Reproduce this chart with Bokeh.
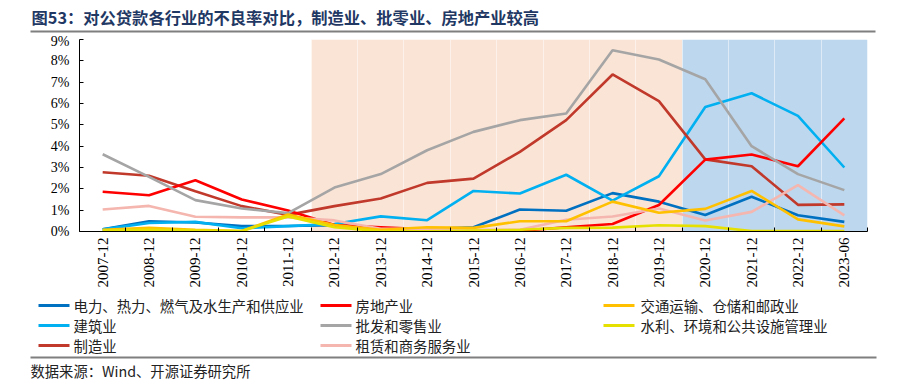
import math
from bokeh.plotting import figure
from bokeh.layouts import column
from bokeh.models import FixedTicker, PrintfTickFormatter, Range1d
from bokeh.core.properties import value
from bokeh.embed import file_html
from bokeh.resources import INLINE

# ---------------- data ----------------
categories = ["2007-12", "2008-12", "2009-12", "2010-12", "2011-12", "2012-12",
              "2013-12", "2014-12", "2015-12", "2016-12", "2017-12", "2018-12",
              "2019-12", "2020-12", "2021-12", "2022-12", "2023-06"]

electric = [0.10, 0.48, 0.42, 0.25, 0.26, 0.30, 0.15, 0.12, 0.20, 1.03, 0.97, 1.80, 1.40, 0.77, 1.63, 0.76, 0.45]
construction = [0.10, 0.40, 0.45, 0.15, 0.25, 0.35, 0.71, 0.53, 1.90, 1.78, 2.66, 1.45, 2.59, 5.84, 6.48, 5.42, 3.00]
manufacturing = [2.78, 2.61, 1.89, 1.19, 0.78, 1.19, 1.55, 2.28, 2.48, 3.73, 5.22, 7.36, 6.11, 3.38, 3.06, 1.25, 1.27]
real_estate = [1.86, 1.70, 2.40, 1.50, 0.98, 0.30, 0.20, 0.10, 0.05, 0.03, 0.20, 0.35, 1.24, 3.37, 3.61, 3.06, 5.30]
wholesale = [3.62, 2.56, 1.47, 1.08, 0.86, 2.06, 2.69, 3.81, 4.67, 5.22, 5.53, 8.50, 8.06, 7.14, 4.00, 2.69, 1.94]
leasing = [1.03, 1.20, 0.69, 0.66, 0.66, 0.52, 0.13, 0.13, 0.08, 0.08, 0.55, 0.70, 1.08, 0.52, 0.92, 2.17, 0.76]
transport = [0.08, 0.17, 0.08, 0.02, 0.80, 0.30, 0.08, 0.20, 0.17, 0.48, 0.48, 1.40, 0.88, 1.06, 1.90, 0.57, 0.24]
water = [0.05, 0.08, 0.05, 0.02, 0.70, 0.20, 0.01, 0.01, 0.05, 0.08, 0.17, 0.18, 0.29, 0.25, 0.02, 0.02, 0.02]

series_names = ["电力、热力、燃气及水生产和供应业", "建筑业", "制造业",
                "房地产业", "批发和零售业", "租赁和商务服务业",
                "交通运输、仓储和邮政业", "水利、环境和公共设施管理业"]
series_values = [electric, construction, manufacturing, real_estate, wholesale,
                 leasing, transport, water]
series_colors = ["#0070C0", "#00B0F0", "#C0392B", "#FF0000", "#A5A5A5",
                 "#F4B6AF", "#FFC000", "#E6E000"]

periods = [("2012-12", "2019-12", "#FAE4D6"), ("2020-12", "2023-06", "#BDD7EE")]

y_max = 9
title_text = "图53：对公贷款各行业的不良率对比，制造业、批零业、房地产业较高"
source_text = "数据来源：Wind、开源证券研究所"

W = 900
cjk = "Noto Sans CJK SC"

# ---------------- top strip: title ----------------
top_h = 33
top = figure(width=W, height=top_h, output_backend="svg", toolbar_location=None,
             x_range=Range1d(0, W), y_range=Range1d(top_h, 0),
             x_axis_location=None, y_axis_location=None,
             min_border_left=0, min_border_right=0, min_border_top=0,
             min_border_bottom=0, frame_align=False)
top.outline_line_color = None
top.grid.grid_line_color = None
top.text(x=[31], y=[16], text=[title_text], text_font=value(cjk),
         text_font_size="16.3px", text_font_style="bold", text_color="#1F3864",
         text_baseline="middle", text_align="left")
top.segment(x0=[30], y0=[31], x1=[875], y1=[31], line_color="#7F7F7F", line_width=2)

# ---------------- main chart ----------------
n = len(categories)
main_h = 262
p = figure(width=W, height=main_h, output_backend="svg", toolbar_location=None,
           x_range=Range1d(-0.5, n - 0.5), y_range=Range1d(0, y_max),
           min_border_left=79, min_border_right=W - 867, min_border_top=6,
           min_border_bottom=64, frame_align=False)
p.outline_line_color = None
p.background_fill_color = "white"
p.border_fill_color = "white"

for start, end, col in periods:
    i0 = categories.index(start)
    i1 = categories.index(end)
    p.quad(left=[i0 - 0.5], right=[i1 + 0.5], bottom=[0], top=[y_max],
           fill_color=col, line_color=None, level="image")

xt = FixedTicker(ticks=list(range(n)), minor_ticks=[i - 0.5 for i in range(n + 1)])
p.xaxis.ticker = xt
p.xaxis.major_label_overrides = {i: c for i, c in enumerate(categories)}
p.xaxis.major_label_orientation = math.pi / 2
p.xaxis.major_tick_line_color = None
p.xaxis.major_tick_in = 0
p.xaxis.major_tick_out = 0
p.xaxis.minor_tick_in = 4
p.xaxis.minor_tick_out = 0
p.xaxis.minor_tick_line_color = "black"
p.xaxis.major_label_standoff = 6
p.xaxis.major_label_text_font = "Liberation Serif"
p.xaxis.major_label_text_font_size = "15px"
p.xaxis.major_label_text_color = "black"
p.xaxis.axis_line_color = "black"

p.yaxis.ticker = FixedTicker(ticks=list(range(0, y_max + 1)))
p.yaxis.formatter = PrintfTickFormatter(format="%d%%")
p.yaxis.major_tick_in = 4
p.yaxis.major_tick_out = 0
p.yaxis.minor_tick_line_color = None
p.yaxis.major_label_standoff = 10
p.yaxis.major_label_text_font = "Liberation Serif"
p.yaxis.major_label_text_font_size = "14px"
p.yaxis.major_label_text_color = "black"
p.yaxis.axis_line_color = "black"

p.ygrid.grid_line_color = None
p.xgrid.ticker = xt
p.xgrid.grid_line_color = None
p.xgrid.minor_grid_line_color = "white"
p.xgrid.minor_grid_line_alpha = 0.5

xs = list(range(n))
for name, vals, col in zip(series_names, series_values, series_colors):
    p.line(xs, vals, line_color=col, line_width=2.6)

# ---------------- bottom strip: legend + source ----------------
y0_page = top_h + main_h
bot_h = 385 - y0_page
bot = figure(width=W, height=bot_h, output_backend="svg", toolbar_location=None,
             x_range=Range1d(0, W), y_range=Range1d(385, y0_page),
             x_axis_location=None, y_axis_location=None,
             min_border_left=0, min_border_right=0, min_border_top=0,
             min_border_bottom=0, frame_align=False)
bot.outline_line_color = None
bot.grid.grid_line_color = None

legend_cols = [(38, 73), (320, 355), (603, 640)]
legend_rows = [305, 325, 345]
for k, (name, col) in enumerate(zip(series_names, series_colors)):
    c = k // 3
    r = k % 3
    x0, xt0 = legend_cols[c]
    yy = legend_rows[r]
    bot.segment(x0=[x0], y0=[yy], x1=[x0 + 31], y1=[yy], line_color=col, line_width=3)
    bot.text(x=[xt0], y=[yy], text=[name], text_font=value(cjk), text_font_size="14.4px",
             text_color="#222222", text_baseline="middle", text_align="left")

bot.segment(x0=[30], y0=[357], x1=[876], y1=[357], line_color="#7F7F7F", line_width=2)
bot.text(x=[30], y=[370], text=[source_text], text_font=value(cjk), text_font_size="14.3px",
         text_color="#222222", text_baseline="middle", text_align="left")

layout = column(top, p, bot, spacing=0)
open("out.html", "w").write(file_html(layout, INLINE))
